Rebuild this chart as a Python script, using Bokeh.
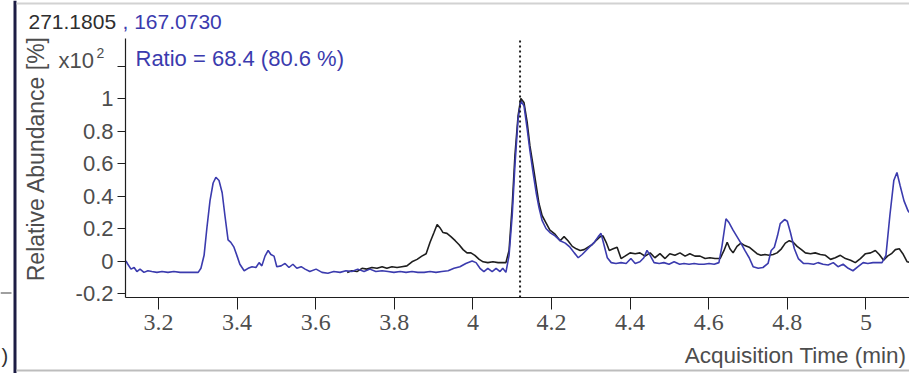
import math
from bokeh.plotting import figure
from bokeh.models import Range1d, FixedTicker, Label, BoxAnnotation
from bokeh.embed import file_html
from bokeh.resources import INLINE

# Qualifier ion trace (m/z 167.0730), relative abundance x10^2 %
blue_time = [3.117, 3.122, 3.130, 3.138, 3.145, 3.153, 3.163, 3.173, 3.183, 3.196,
             3.209, 3.224, 3.239, 3.255, 3.270, 3.285, 3.301, 3.308, 3.316, 3.323,
             3.331, 3.339, 3.346, 3.354, 3.362, 3.369, 3.377, 3.384, 3.392, 3.400,
             3.407, 3.418, 3.428, 3.438, 3.448, 3.456, 3.463, 3.471, 3.479, 3.486,
             3.494, 3.501, 3.512, 3.522, 3.532, 3.542, 3.552, 3.563, 3.573, 3.585,
             3.601, 3.616, 3.631, 3.646, 3.662, 3.677, 3.692, 3.707, 3.723, 3.738,
             3.753, 3.769, 3.784, 3.799, 3.815, 3.830, 3.845, 3.860, 3.876, 3.891,
             3.906, 3.921, 3.937, 3.952, 3.967, 3.982, 3.998, 4.008, 4.018, 4.028,
             4.038, 4.049, 4.059, 4.069, 4.076, 4.084, 4.092, 4.100, 4.107, 4.115,
             4.122, 4.130, 4.138, 4.145, 4.153, 4.161, 4.168, 4.176, 4.186, 4.196,
             4.209, 4.222, 4.235, 4.247, 4.258, 4.268, 4.278, 4.288, 4.298, 4.309,
             4.319, 4.326, 4.334, 4.342, 4.352, 4.364, 4.377, 4.390, 4.402, 4.413,
             4.425, 4.435, 4.443, 4.451, 4.461, 4.474, 4.486, 4.499, 4.512, 4.526,
             4.537, 4.550, 4.563, 4.575, 4.588, 4.601, 4.614, 4.626, 4.634, 4.644,
             4.652, 4.662, 4.672, 4.682, 4.692, 4.703, 4.713, 4.726, 4.738, 4.751,
             4.759, 4.767, 4.775, 4.782, 4.793, 4.800, 4.808, 4.818, 4.828, 4.841,
             4.853, 4.867, 4.878, 4.891, 4.904, 4.917, 4.929, 4.942, 4.955, 4.967,
             4.980, 4.993, 5.005, 5.018, 5.031, 5.041, 5.051, 5.061, 5.071, 5.079,
             5.087, 5.097, 5.107, 5.117]
blue_abund = [0.00, -0.02, -0.05, -0.04, -0.065, -0.05, -0.07, -0.06, -0.065, -0.07,
              -0.065, -0.07, -0.065, -0.07, -0.07, -0.07, -0.07, -0.045, 0.035, 0.20,
              0.37, 0.48, 0.515, 0.495, 0.42, 0.28, 0.13, 0.115, 0.085, 0.03,
              -0.02, -0.06, -0.045, -0.035, -0.04, -0.01, -0.03, 0.03, 0.065, 0.04,
              0.03, -0.035, -0.03, -0.015, -0.04, -0.02, -0.045, -0.035, -0.05, -0.065,
              -0.05, -0.07, -0.075, -0.065, -0.07, -0.06, -0.065, -0.05, -0.065, -0.05,
              -0.065, -0.06, -0.065, -0.07, -0.065, -0.07, -0.065, -0.07, -0.07, -0.065,
              -0.07, -0.065, -0.06, -0.045, -0.035, -0.015, 0.0, -0.01, -0.045, -0.065,
              -0.045, -0.065, -0.045, -0.065, -0.045, -0.07, 0.035, 0.28, 0.59, 0.875,
              0.985, 0.955, 0.815, 0.68, 0.545, 0.42, 0.33, 0.25, 0.20, 0.175,
              0.155, 0.125, 0.11, 0.085, 0.05, 0.02, 0.04, 0.065, 0.09, 0.115,
              0.15, 0.17, 0.095, 0.02, -0.01, -0.015, -0.01, -0.015, 0.015, -0.015,
              -0.005, 0.02, 0.065, 0.035, -0.01, -0.015, -0.01, -0.02, -0.005, -0.02,
              -0.015, -0.02, -0.015, -0.02, -0.02, -0.015, -0.02, -0.01, 0.095, 0.26,
              0.235, 0.19, 0.15, 0.11, 0.065, 0.02, -0.035, -0.045, -0.04, -0.015,
              0.065, 0.085, 0.155, 0.23, 0.255, 0.245, 0.175, 0.075, 0.015, -0.015,
              -0.015, -0.02, -0.01, -0.02, -0.025, -0.01, -0.035, -0.02, -0.045, -0.06,
              -0.035, -0.01, -0.015, -0.01, -0.01, -0.01, 0.035, 0.28, 0.495, 0.545,
              0.465, 0.37, 0.31, 0.28]

# Quantifier ion trace (m/z 271.1805)
black_time = [3.680, 3.692, 3.705, 3.718, 3.730, 3.743, 3.756, 3.769, 3.781, 3.794,
              3.807, 3.819, 3.832, 3.845, 3.858, 3.870, 3.881, 3.891, 3.901, 3.909,
              3.916, 3.924, 3.934, 3.944, 3.955, 3.965, 3.975, 3.985, 3.995, 4.005,
              4.016, 4.026, 4.038, 4.051, 4.064, 4.076, 4.084, 4.092, 4.100, 4.107,
              4.115, 4.122, 4.130, 4.138, 4.145, 4.153, 4.161, 4.168, 4.176, 4.186,
              4.196, 4.209, 4.222, 4.232, 4.242, 4.253, 4.263, 4.273, 4.283, 4.293,
              4.303, 4.313, 4.324, 4.331, 4.339, 4.347, 4.357, 4.367, 4.377, 4.387,
              4.400, 4.413, 4.425, 4.438, 4.451, 4.463, 4.476, 4.489, 4.501, 4.514,
              4.527, 4.540, 4.552, 4.565, 4.578, 4.591, 4.603, 4.616, 4.629, 4.639,
              4.647, 4.654, 4.662, 4.672, 4.682, 4.692, 4.703, 4.713, 4.723, 4.733,
              4.743, 4.754, 4.764, 4.774, 4.785, 4.795, 4.805, 4.815, 4.825, 4.836,
              4.846, 4.859, 4.871, 4.884, 4.897, 4.910, 4.922, 4.935, 4.948, 4.961,
              4.973, 4.986, 4.999, 5.012, 5.024, 5.034, 5.045, 5.055, 5.065, 5.075,
              5.085, 5.094, 5.105, 5.117]
black_abund = [-0.07, -0.06, -0.065, -0.045, -0.05, -0.04, -0.045, -0.035, -0.045, -0.035,
               -0.04, -0.035, -0.03, -0.005, 0.01, 0.03, 0.045, 0.115, 0.175, 0.225,
               0.205, 0.175, 0.17, 0.15, 0.125, 0.10, 0.07, 0.05, 0.05, 0.035,
               0.01, -0.005, -0.01, -0.005, -0.01, -0.01, -0.01, 0.065, 0.34, 0.65,
               0.895, 1.0, 0.975, 0.855, 0.71, 0.59, 0.465, 0.355, 0.28, 0.235,
               0.19, 0.165, 0.125, 0.15, 0.125, 0.09, 0.075, 0.065, 0.07, 0.085,
               0.10, 0.125, 0.15, 0.155, 0.115, 0.065, 0.075, 0.085, 0.015, 0.03,
               0.05, 0.045, 0.05, 0.03, 0.05, 0.02, 0.045, 0.015, 0.045, 0.035,
               0.05, 0.03, 0.045, 0.03, 0.03, 0.015, 0.02, 0.015, 0.015, 0.065,
               0.115, 0.075, 0.05, 0.09, 0.11, 0.095, 0.085, 0.065, 0.045, 0.035,
               0.04, 0.035, 0.04, 0.05, 0.075, 0.11, 0.125, 0.115, 0.09, 0.07,
               0.05, 0.045, 0.05, 0.04, 0.035, 0.01, 0.02, 0.035, 0.015, 0.005,
               -0.01, 0.015, 0.045, 0.05, 0.065, 0.04, 0.005, 0.03, 0.045, 0.07,
               0.075, 0.045, -0.005, -0.01]

x_ticks = [3.2, 3.4, 3.6, 3.8, 4.0, 4.2, 4.4, 4.6, 4.8, 5.0]
x_tick_labels = ["3.2", "3.4", "3.6", "3.8", "4", "4.2", "4.4", "4.6", "4.8", "5"]
y_ticks = [-0.2, 0.0, 0.2, 0.4, 0.6, 0.8, 1.0, 1.2]
y_tick_labels = ["-0.2", "0", "0.2", "0.4", "0.6", "0.8", "1", ""]

retention_time = 4.12
quant_mz = "271.1805"
qual_mz = ", 167.0730"
ratio_text = "Ratio = 68.4 (80.6 %)"

BLUE = "#3b3bae"
BLACK = "#1e1e1e"
GRAY = "#4d4d4d"
FONT = "Liberation Sans"

# Canvas geometry: the frame fills the whole canvas and both axes are
# pinned at fixed data locations, so the annotations can sit anywhere.
W, H = 909, 373
PX_PER_MIN = 393.0          # horizontal scale, pixels per minute
PX_PER_UNIT = 162.5         # vertical scale, pixels per abundance unit
X0_PX, X0_VAL = 158.0, 3.2  # pixel column of the 3.2 min tick
Y0_PX = 260.5               # pixel row of zero abundance
AXIS_LEFT_PX, AXIS_TOP_PX, AXIS_BOTTOM_PX = 125, 38, 297


def t_at(px):
    return X0_VAL + (px - X0_PX) / PX_PER_MIN


def v_at(py):
    return (Y0_PX - py) / PX_PER_UNIT


x_lo, x_hi = t_at(AXIS_LEFT_PX), t_at(W)
y_lo, y_hi = v_at(AXIS_BOTTOM_PX), v_at(AXIS_TOP_PX)

p = figure(width=W, height=H, output_backend="svg", toolbar_location=None,
           x_range=Range1d(t_at(0), t_at(W)), y_range=Range1d(v_at(H), v_at(0)),
           min_border=0)
p.outline_line_color = None
p.background_fill_color = "white"
p.border_fill_color = "white"
p.xgrid.visible = False
p.ygrid.visible = False

p.xaxis.fixed_location = y_lo
p.xaxis.bounds = (x_lo, x_hi)
p.yaxis.fixed_location = x_lo
p.yaxis.bounds = (y_lo, y_hi)

p.xaxis.ticker = FixedTicker(ticks=x_ticks)
p.xaxis.major_label_overrides = dict(zip(x_ticks, x_tick_labels))
p.yaxis.ticker = FixedTicker(ticks=y_ticks)
p.yaxis.major_label_overrides = dict(zip(y_ticks, y_tick_labels))
for ax in (p.xaxis[0], p.yaxis[0]):
    ax.minor_tick_line_color = None
    ax.axis_line_color = BLACK
    ax.axis_line_width = 1.2
    ax.major_tick_line_color = BLACK
    ax.major_label_text_color = GRAY
    ax.major_label_text_font = FONT
    ax.major_label_text_font_size = "22px"
    ax.major_tick_in = 0
p.xaxis.major_tick_out = 12
p.xaxis.major_label_standoff = 5
p.xaxis.major_label_text_font = "Liberation Sans Narrow"
p.xaxis.major_label_text_font_size = "24px"
p.yaxis.major_tick_out = 8
p.yaxis.major_label_standoff = 4

p.line(black_time, black_abund, line_color=BLACK, line_width=1.6)
p.line(blue_time, blue_abund, line_color=BLUE, line_width=1.6)
# retention-time marker
p.segment(x0=[retention_time], y0=[y_lo], x1=[retention_time], y1=[y_hi],
          line_color=BLACK, line_width=2, line_dash="2 3")


def txt(x, y, text, color=GRAY, size="22px", font=FONT, angle=0.0,
        align="left", baseline="middle"):
    # x, y in canvas pixels from the top-left corner
    p.add_layout(Label(x=x, y=H - y, x_units="screen", y_units="screen", text=text,
                       text_color=color, text_font_size=size, text_font=font,
                       angle=angle, text_align=align, text_baseline=baseline))


def bar(left, right, top, bottom, color):
    p.add_layout(BoxAnnotation(left=left, right=right, top=H - top, bottom=H - bottom,
                               left_units="screen", right_units="screen",
                               top_units="screen", bottom_units="screen",
                               fill_color=color, fill_alpha=1, line_color=None,
                               level="underlay"))


txt(28, 21, quant_mz, color="#2e2e2e", size="21px")
txt(122, 21, qual_mz, color=BLUE, size="21px")
txt(135, 58, ratio_text, color=BLUE)
txt(58, 60, "x10")
txt(96, 52, "2", size="14px")
txt(35, 158, "Relative Abundance [%]", size="23px", angle=math.pi / 2, align="center")
txt(906, 355, "Acquisition Time (min)", size="22.5px", align="right")

# edge of the neighbouring panel and the pane borders
bar(13, 16, 0, H, "#1c1c44")
bar(16, W, 2, 4, "#d2d2d2")
bar(16, W, 369, 371, "#bdbdbd")
bar(0, 11, 292, 293, "#404040")
txt(1, 355, ")", color="#303030", size="20px")

open("out.html", "w").write(file_html(p, INLINE))
